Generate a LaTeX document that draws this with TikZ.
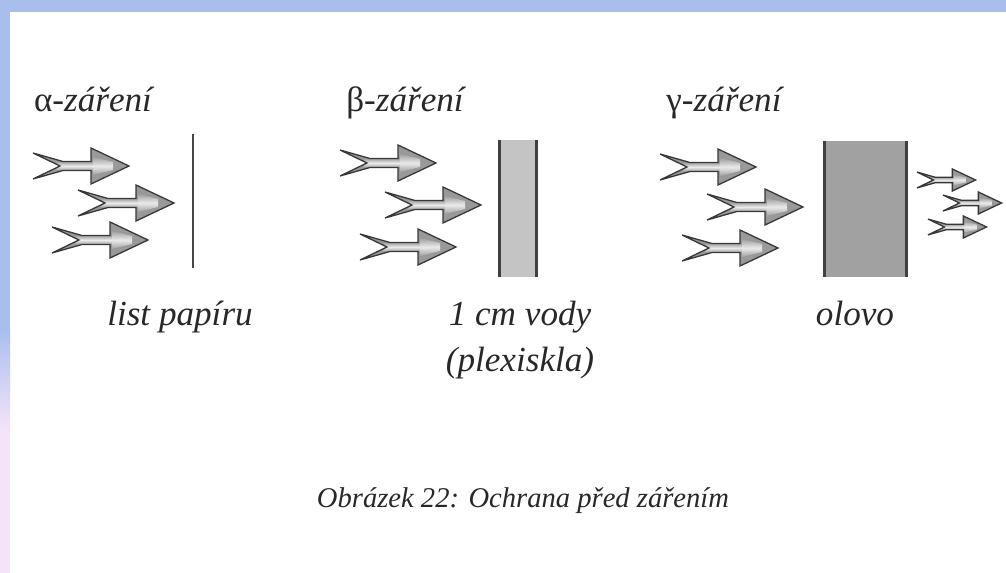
\documentclass[tikz,border=0pt]{standalone}
\usepackage{fontspec}
\setmainfont{Liberation Serif}
\definecolor{bandblue}{RGB}{170,190,238}
\definecolor{bandpink}{RGB}{244,228,250}
\definecolor{ink}{RGB}{40,40,40}
\tikzset{
  arrowfill/.style={fill=black!40},
  arrowline/.style={draw=black!78, line width=1.1pt, line join=miter},
  arrowshine/.style={top color=black!38, bottom color=black!38, middle color=black!8},
  pics/ray/.style={code={
    \path[arrowfill] (0,-13) -- (30,-4.5) -- (58,-4.5) -- (58,-18) -- (96,0)
      -- (58,18) -- (58,4.5) -- (30,4.5) -- (0,13) -- (27,0) -- cycle;
    \shade[arrowshine] (22,-4.5) -- (60,-4.5) -- (60,4.5) -- (22,4.5) -- (27,0) -- cycle;
    \shade[arrowshine] (60,-9) -- (80,-4) -- (80,4) -- (60,9) -- cycle;
    \path[arrowline] (0,-13) -- (30,-4.5) -- (58,-4.5) -- (58,-18) -- (96,0)
      -- (58,18) -- (58,4.5) -- (30,4.5) -- (0,13) -- (27,0) -- cycle;}},
  label/.style={anchor=base, inner sep=0pt, text=ink, font=\fontsize{30}{36}\selectfont\itshape},
  caption/.style={anchor=base, inner sep=0pt, text=ink, font=\fontsize{24.4}{29}\selectfont\itshape},
  wall/.style={draw=black!75, line width=3.2pt},
}
\begin{document}
\begin{tikzpicture}[x=0.03cm,y=-0.03cm]
\useasboundingbox (0,0) rectangle (1006,573);
\fill[white] (0,0) rectangle (1006,573);
% page border bands
\fill[bandblue] (0,0) rectangle (1006,12);
\fill[bandblue] (0,0) rectangle (10,330);
\shade[top color=bandblue, bottom color=bandpink] (0,330) rectangle (10,430);
\fill[bandpink] (0,430) rectangle (10,573);

% alpha
\node[label] (la) at (93,112) {\textup{α}-záření};
\pic at (33,166) {ray};
\pic at (78,203) {ray};
\pic at (52,240) {ray};
\draw[draw=black!72, line width=2.3pt] (193,134) -- (193,268);
\node[label] (lpap) at (180,326) {list papíru};

% beta
\node[label] (lb) at (405,112) {\textup{β}-záření};
\pic at (340,163) {ray};
\pic at (385,205) {ray};
\pic at (360,247) {ray};
\fill[black!23] (498,140) rectangle (538,277);
\draw[wall] (499.5,140) -- (499.5,277);
\draw[wall] (536.5,140) -- (536.5,277);
\node[label] (lvod) at (520,326) {1 cm vody};
\node[label] (lplx) at (520,372) {(plexiskla)};

% gamma
\node[label] (lg) at (724,112) {\textup{γ}-záření};
\pic at (660,167) {ray};
\pic at (707,207) {ray};
\pic at (682,248) {ray};
\fill[black!37] (823,141) rectangle (908,277);
\draw[wall] (824.5,141) -- (824.5,277);
\draw[wall] (906.5,141) -- (906.5,277);
\pic[scale=0.61] at (917,180) {ray};
\pic[scale=0.61] at (943,203) {ray};
\pic[scale=0.61] at (928,227) {ray};
\node[label] (lol) at (855,326) {olovo};

% caption
\node[caption] (cap) at (523,507) {Obrázek 22: Ochrana před zářením};
\end{tikzpicture}
\end{document}
